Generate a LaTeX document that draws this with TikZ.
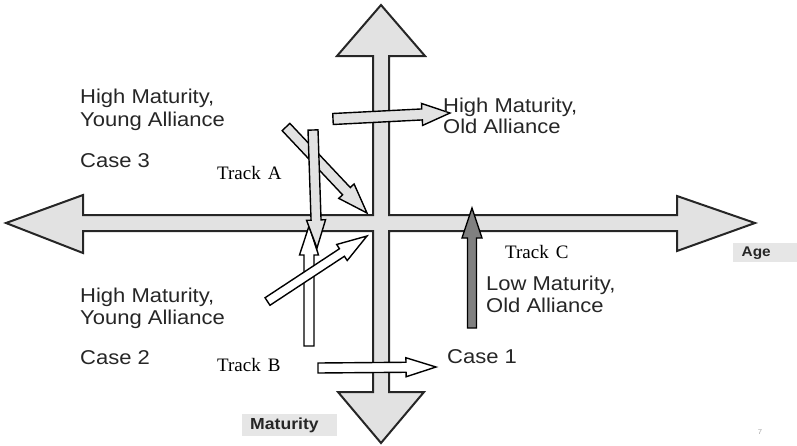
\documentclass[tikz,border=0pt]{standalone}
\usepackage{fontspec}
\setmainfont{Liberation Sans}[FakeStretch=1.1]
\newfontfamily\trackfont{Liberation Serif}
\usetikzlibrary{calc}
\definecolor{axisfill}{HTML}{E2E2E2}
\definecolor{txt}{HTML}{262626}
\definecolor{darkarrow}{HTML}{808080}
\definecolor{labelbox}{HTML}{E6E6E6}
% start, end, shaft half width, head half width, head length, style
\newcommand\blockarrow[6]{%
  \coordinate (ba-h) at ($(#2)!#5!(#1)$);
  \draw[#6] ($(#1)!#3!90:(#2)$) -- ($(ba-h)!#3!90:(#2)$) -- ($(ba-h)!#4!90:(#2)$)
    -- (#2) -- ($(ba-h)!#4!-90:(#2)$) -- ($(ba-h)!#3!-90:(#2)$) -- ($(#1)!#3!-90:(#2)$) -- cycle;
}
\begin{document}
\begin{tikzpicture}[x=1pt,y=-1pt,line join=miter,
  axisst/.style={draw=black!85,line width=2pt,fill=axisfill},
  grayarrow/.style={draw=black,line width=1.4pt,fill=axisfill},
  whitearrow/.style={draw=black,line width=1.4pt,fill=white},
  darkarrowst/.style={draw=black,line width=1.4pt,fill=darkarrow},
  lbl/.style={text=txt,inner sep=0pt,anchor=base west,font=\fontsize{20}{24}\selectfont},
  trk/.style={inner sep=0pt,anchor=base west,font=\trackfont\fontsize{19}{22}\selectfont},
  tagbox/.style={fill=labelbox,anchor=north west,align=left,text=txt,inner ysep=0pt}]
\useasboundingbox (0,0) rectangle (797,445);

% axes cross
\draw[axisst] (381,5) -- (425,56) -- (389,56) -- (389,215) -- (677,215) -- (677,196)
  -- (755,223) -- (677,251) -- (677,231) -- (389,231) -- (389,392) -- (424,392)
  -- (381,443) -- (338,392) -- (373,392) -- (373,231) -- (83,231) -- (83,253)
  -- (6,223) -- (83,195) -- (83,215) -- (373,215) -- (373,56) -- (337,56) -- cycle;

% arrow end points
\coordinate (b1s) at (309,346); \coordinate (b1e) at (309,226);
\coordinate (b2s) at (267.5,301.5); \coordinate (b2e) at (367,236);
\coordinate (b3s) at (318,368); \coordinate (b3e) at (436,367);
\coordinate (a1s) at (333,119); \coordinate (a1e) at (450,113);
\coordinate (a2s) at (286,127); \coordinate (a2e) at (367,213);
\coordinate (a3s) at (313,130); \coordinate (a3e) at (317,248);
\coordinate (c1s) at (472,328); \coordinate (c1e) at (472,208);

\blockarrow{b1s}{b1e}{5pt}{9.5pt}{29pt}{whitearrow}
\blockarrow{b2s}{b2e}{4.5pt}{9.6pt}{30pt}{whitearrow}
\blockarrow{b3s}{b3e}{5pt}{9.5pt}{30pt}{whitearrow}
\blockarrow{a1s}{a1e}{5.5pt}{11pt}{28pt}{grayarrow}
\blockarrow{a2s}{a2e}{5.3pt}{10.5pt}{30pt}{grayarrow}
\blockarrow{a3s}{a3e}{5pt}{9.5pt}{28pt}{grayarrow}
\blockarrow{c1s}{c1e}{4.5pt}{10pt}{30pt}{darkarrowst}

% quadrant labels
\node[lbl] (tl1) at (80,103) {High Maturity,};
\node[lbl] (tl2) at (80,126) {Young Alliance};
\node[lbl] (case3) at (80,167) {Case 3};
\node[lbl] (bl1) at (80,302) {High Maturity,};
\node[lbl] (bl2) at (80,324) {Young Alliance};
\node[lbl] (case2) at (80,364) {Case 2};
\node[lbl] (tr1) at (443,112) {High Maturity,};
\node[lbl] (tr2) at (443,133) {Old Alliance};
\node[lbl] (br1) at (486,290) {Low Maturity,};
\node[lbl] (br2) at (486,312) {Old Alliance};
\node[lbl] (case1) at (447,363) {Case 1};

% track labels
\node[trk] (tA) at (217,179) {Track\hspace{7pt}A};
\node[trk] (tB) at (217,371) {Track\hspace{7pt}B};
\node[trk] (tC) at (505,258) {Track\hspace{7pt}C};

% axis tags
\node[tagbox,font=\bfseries\fontsize{14}{16}\selectfont,minimum height=19pt,text width=47pt,inner xsep=8.5pt] (age) at (733,243) {Age};
\node[tagbox,font=\bfseries\fontsize{16}{18}\selectfont,minimum height=22pt,text width=79pt,inner xsep=8pt] (mat) at (242,414) {Maturity};

\node[text=black!35,font=\fontsize{7}{8}\selectfont] (pg) at (760,432) {7};
\end{tikzpicture}
\end{document}
